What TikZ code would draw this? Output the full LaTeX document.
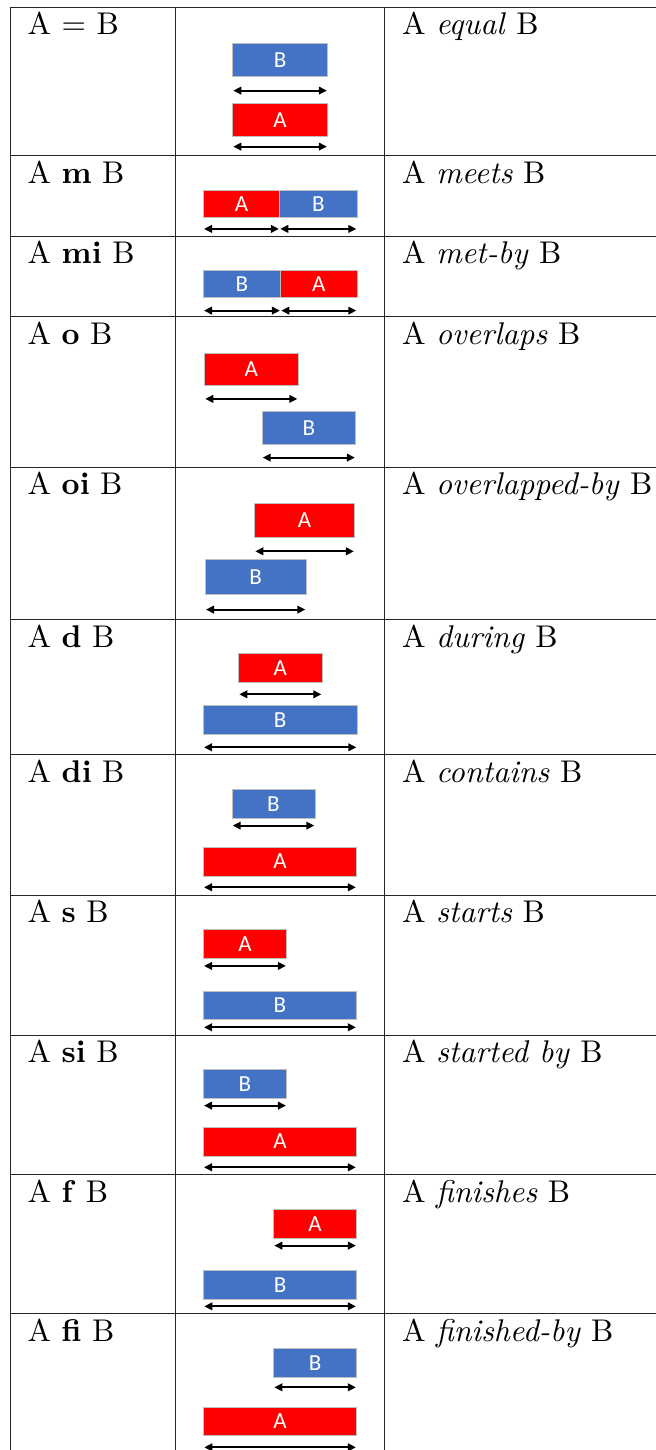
\documentclass[tikz,border=0pt]{standalone}
\usepackage{fontspec}
\usepackage{graphicx}
\usepackage{tikz}
\usetikzlibrary{arrows.meta}
\newfontfamily\barfont{Carlito}
\definecolor{barred}{RGB}{255,0,0}
\definecolor{barblue}{RGB}{68,114,196}

\tikzset{
  rule/.style={draw=black!85, line width=0.5pt},
  ivbox/.style={rectangle, draw=black!25, line width=0.3pt, text=white, inner sep=0pt,
    anchor=north west, font=\barfont\fontsize{11.5}{13}\selectfont},
  span/.style={line width=0.95pt, {Triangle[length=4pt,width=3.8pt]}-{Triangle[length=4pt,width=3.8pt]}},
  rel/.style={anchor=base west, inner sep=0pt, font=\fontsize{10}{12}\selectfont}
}

% cell text: 10pt design blown up
\newcommand{\celltext}[1]{\scalebox{1.57}{#1}}

% interval bar with its span arrow: name, colour, letter, left, right, top, bottom, arrow row
\newcommand{\ivl}[8]{%
  \node[ivbox, fill=#2, minimum width={(#5-#4)*0.5pt}, minimum height={(#7-#6)*0.5pt}] (#1) at (#4,#6) {#3};
  \draw[span] ([xshift=0.5pt, yshift={-(#8-#7)*0.5pt}]#1.south west) -- ([xshift=-0.5pt, yshift={-(#8-#7)*0.5pt}]#1.south east);
}

\begin{document}
\begin{tikzpicture}[x=0.5pt, y=-0.5pt]
\useasboundingbox (0,0) rectangle (656,1450);

% table rules
\foreach \y in {7.3,155.5,236,316.9,467,619.3,754.8,895,1035,1174.7,1313.8}
  \draw[rule] (10,\y) -- (656,\y);
\foreach \x in {10,175.3,384}
  \draw[rule] (\x,7.3) -- (\x,1450);

% equal
\node[rel] (eqL) at (27.3,35) {\celltext{A $=$ B}};
\node[rel] (eqR) at (401.7,35) {\celltext{A \textit{equal} B}};
\ivl{eqB}{barblue}{B}{232.3}{327.3}{43.3}{76}{90}
\ivl{eqA}{barred}{A}{232.3}{327.3}{103.3}{136}{146}

% meets
\node[rel] (mL) at (27.3,183.2) {\celltext{A \textbf{m} B}};
\node[rel] (mR) at (401.7,183.2) {\celltext{A \textit{meets} B}};
\ivl{mA}{barred}{A}{203}{279.3}{190}{216.7}{228.3}
\ivl{mB}{barblue}{B}{279.3}{356.7}{190}{216.7}{228.3}

% met-by
\node[rel] (miL) at (27.3,263.7) {\celltext{A \textbf{mi} B}};
\node[rel] (miR) at (401.7,263.7) {\celltext{A \textit{met-by} B}};
\ivl{miB}{barblue}{B}{203}{280.3}{270}{296.7}{310}
\ivl{miA}{barred}{A}{280.3}{356.7}{270}{296.7}{310}

% overlaps
\node[rel] (oL) at (27.3,344.6) {\celltext{A \textbf{o} B}};
\node[rel] (oR) at (401.7,344.6) {\celltext{A \textit{overlaps} B}};
\ivl{oA}{barred}{A}{204.3}{297.7}{353.3}{385}{398.3}
\ivl{oB}{barblue}{B}{261.7}{355.3}{411}{443.7}{457}

% overlapped-by
\node[rel] (oiL) at (27.3,494.7) {\celltext{A \textbf{oi} B}};
\node[rel] (oiR) at (401.7,494.7) {\celltext{A \textit{overlapped-by} B}};
\ivl{oiA}{barred}{A}{254.3}{354.3}{502.7}{537.3}{550.7}
\ivl{oiB}{barblue}{B}{205}{305.7}{559.3}{594}{609}

% during
\node[rel] (dL) at (27.3,647) {\celltext{A \textbf{d} B}};
\node[rel] (dR) at (401.7,647) {\celltext{A \textit{during} B}};
\ivl{dA}{barred}{A}{238.3}{321.7}{653.3}{682}{693.7}
\ivl{dB}{barblue}{B}{203}{356.7}{705}{734.3}{746.7}

% contains
\node[rel] (diL) at (27.3,782.5) {\celltext{A \textbf{di} B}};
\node[rel] (diR) at (401.7,782.5) {\celltext{A \textit{contains} B}};
\ivl{diB}{barblue}{B}{231.7}{314.7}{789}{818}{825}
\ivl{diA}{barred}{A}{203}{356.3}{846.7}{875.7}{886.7}

% starts
\node[rel] (sL) at (27.3,922.7) {\celltext{A \textbf{s} B}};
\node[rel] (sR) at (401.7,922.7) {\celltext{A \textit{starts} B}};
\ivl{sA}{barred}{A}{203}{286.3}{929.3}{958}{965.3}
\ivl{sB}{barblue}{B}{203}{356.3}{990.7}{1019.3}{1026.7}

% started by
\node[rel] (siL) at (27.3,1062.7) {\celltext{A \textbf{si} B}};
\node[rel] (siR) at (401.7,1062.7) {\celltext{A \textit{started by} B}};
\ivl{siB}{barblue}{B}{203}{286.3}{1069}{1098.3}{1105}
\ivl{siA}{barred}{A}{203}{356.3}{1126.7}{1155.7}{1166.7}

% finishes
\node[rel] (fL) at (27.3,1202.4) {\celltext{A \textbf{f} B}};
\node[rel] (fR) at (401.7,1202.4) {\celltext{A \textit{finishes} B}};
\ivl{fA}{barred}{A}{273.3}{356.3}{1209.3}{1237.7}{1245}
\ivl{fB}{barblue}{B}{203.3}{356.3}{1270}{1298.7}{1305.7}

% finished-by
\node[rel] (fiL) at (27.3,1341.5) {\celltext{A \textbf{fi} B}};
\node[rel] (fiR) at (401.7,1341.5) {\celltext{A \textit{finished-by} B}};
\ivl{fiB}{barblue}{B}{273.3}{356.3}{1348.3}{1376.7}{1386.7}
\ivl{fiA}{barred}{A}{203.3}{356.3}{1406.7}{1435}{1446.7}
\end{tikzpicture}
\end{document}
